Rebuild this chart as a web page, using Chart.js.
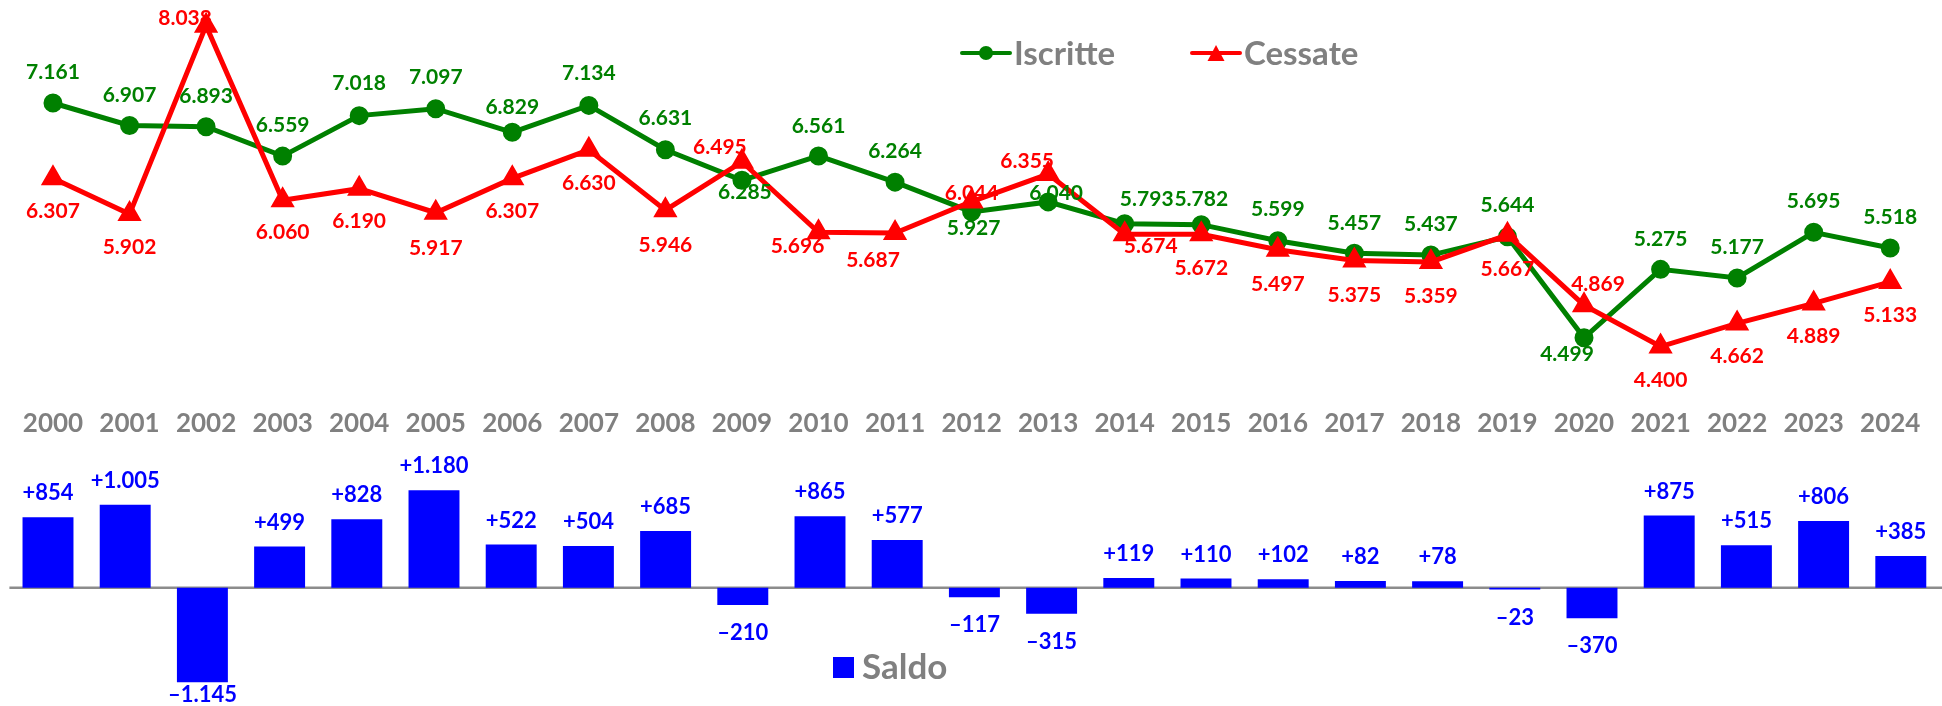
<!DOCTYPE html>
<html><head><meta charset="utf-8">
<script src="https://cdn.jsdelivr.net/npm/chart.js@4.4.1/dist/chart.umd.min.js"></script>
<style>
html,body{margin:0;padding:0;background:#fff;width:1942px;height:706px;overflow:hidden;}
#top{position:absolute;left:0;top:0;width:1942px;height:450px;}
#bot{position:absolute;left:0;top:450px;width:1942px;height:256px;}
</style></head><body>
<div id="top"><canvas id="c1"></canvas></div>
<div id="bot"><canvas id="c2"></canvas></div>
<script>
// ---- data ----
const years = ['2000','2001','2002','2003','2004','2005','2006','2007','2008','2009','2010','2011','2012','2013','2014','2015','2016','2017','2018','2019','2020','2021','2022','2023','2024'];
const iscritte = [7161,6907,6893,6559,7018,7097,6829,7134,6631,6285,6561,6264,5927,6040,5793,5782,5599,5457,5437,5644,4499,5275,5177,5695,5518];
const cessate = [6307,5902,8038,6060,6190,5917,6307,6630,5946,6495,5696,5687,6044,6355,5674,5672,5497,5375,5359,5667,4869,4400,4662,4889,5133];
const saldo = [854,1005,-1145,499,828,1180,522,504,685,-210,865,577,-117,-315,119,110,102,82,78,-23,-370,875,515,806,385];

// ---- label placement (offsets from the mark, in px) ----
const iscritteLabelDy = [-31,-30,-30,-31,-32,-31,-25,-32,-32,12,-30,-31,16,-9,-24,-25,-32,-30,-31,-32,16,-30,-31,-31,-31];
const iscritteLabelDx = [0,0,0,0,0,0,0,0,0,3,0,0,2,8,22,0,0,0,0,0,-17,0,0,0,0];
const cessateLabelDy = [33,33,-7,32,33,35,33,33,35,-15,14,27,-8,-13,12,34,34,35,34,34,-21,34,33,33,33];
const cessateLabelDx = [0,0,-21,0,0,0,0,0,0,-22,-21,-22,0,-21,26,0,0,0,0,0,14,0,0,0,0];

const FONT = 'Lato, "Open Sans", sans-serif';
const GRAY = '#808080';
const GREEN = '#008000', RED = '#FF0000', BLUE = '#0000FF';

function fmtIt(v){
  return Math.abs(v).toString().replace(/\B(?=(\d{3})+(?!\d))/g,'.');
}
function fmtSigned(v){
  return (v >= 0 ? '+' : '\u2013') + fmtIt(v);
}

const lineLabels = {
  id: 'lineLabels',
  afterDatasetsDraw(chart){
    const ctx = chart.ctx;
    ctx.save();
    ctx.font = 'bold 21px ' + FONT;
    ctx.textAlign = 'center';
    ctx.textBaseline = 'middle';
    chart.data.datasets.forEach((ds, i) => {
      const meta = chart.getDatasetMeta(i);
      ctx.fillStyle = ds.borderColor;
      meta.data.forEach((pt, j) => {
        ctx.fillText(fmtIt(ds.data[j]), pt.x + ds.labelDx[j], pt.y + ds.labelDy[j]);
      });
    });
    // legend
    const items = [
      {ds: chart.data.datasets.find(d => d.label === 'Iscritte'), x: 962},
      {ds: chart.data.datasets.find(d => d.label === 'Cessate'), x: 1192}
    ];
    const ly = 53;
    items.forEach(it => {
      const ds = it.ds;
      ctx.strokeStyle = ds.borderColor;
      ctx.fillStyle = ds.borderColor;
      ctx.lineWidth = 4;
      ctx.lineCap = 'round';
      ctx.beginPath(); ctx.moveTo(it.x, ly); ctx.lineTo(it.x + 48, ly); ctx.stroke();
      const cx = it.x + 24;
      if (ds.pointStyle === 'circle') {
        ctx.beginPath(); ctx.arc(cx, ly, 7, 0, Math.PI*2); ctx.fill();
      } else {
        ctx.beginPath(); ctx.moveTo(cx, ly - 8); ctx.lineTo(cx + 8.5, ly + 8); ctx.lineTo(cx - 8.5, ly + 8); ctx.closePath(); ctx.fill();
      }
      ctx.fillStyle = GRAY;
      ctx.font = 'bold 33px ' + FONT;
      ctx.textAlign = 'left';
      ctx.fillText(ds.label, it.x + 52, ly + 1);
    });
    ctx.restore();
  }
};

const barLabels = {
  id: 'barLabels',
  beforeDatasetsDraw(chart){
    const ctx = chart.ctx;
    const y0 = chart.scales.y.getPixelForValue(0);
    ctx.save();
    ctx.strokeStyle = '#8c8c8c';
    ctx.lineWidth = 2.5;
    ctx.beginPath(); ctx.moveTo(chart.chartArea.left, y0); ctx.lineTo(chart.width, y0); ctx.stroke();
    ctx.restore();
  },
  afterDatasetsDraw(chart){
    const ctx = chart.ctx;
    ctx.save();
    ctx.font = 'bold 22px ' + FONT;
    ctx.textAlign = 'center';
    ctx.textBaseline = 'middle';
    ctx.fillStyle = BLUE;
    const ds = chart.data.datasets[0];
    const meta = chart.getDatasetMeta(0);
    meta.data.forEach((bar, j) => {
      const v = ds.data[j];
      let y = v >= 0 ? bar.y - 24 : bar.y + 28;
      y = Math.min(y, chart.height - 11);
      ctx.fillText(fmtSigned(v), bar.x, y);
    });
    // legend
    ctx.fillStyle = BLUE;
    ctx.fillRect(833, 207, 21, 21);
    ctx.fillStyle = GRAY;
    ctx.font = 'bold 35px ' + FONT;
    ctx.textAlign = 'left';
    ctx.fillText(ds.label, 862, 218);
    ctx.restore();
  }
};

new Chart(document.getElementById('c1'), {
  type: 'line',
  data: {
    labels: years,
    datasets: [
      {label: 'Iscritte', data: iscritte, borderColor: GREEN, backgroundColor: GREEN,
       borderWidth: 5, pointStyle: 'circle', pointRadius: 7, pointHoverRadius: 7,
       tension: 0, order: 2, labelDy: iscritteLabelDy, labelDx: iscritteLabelDx},
      {label: 'Cessate', data: cessate, borderColor: RED, backgroundColor: RED,
       borderWidth: 5, pointStyle: 'triangle', pointRadius: 9, pointHoverRadius: 9,
       tension: 0, order: 1, labelDy: cessateLabelDy, labelDx: cessateLabelDx}
    ]
  },
  options: {
    responsive: true, maintainAspectRatio: false, animation: false,
    layout: {padding: {left: 14.7, right: 13.5, top: 0, bottom: 0}, autoPadding: false},
    plugins: {legend: {display: false}, tooltip: {enabled: false}},
    scales: {
      x: {
        offset: true,
        grid: {display: false, drawTicks: false},
        border: {display: false},
        ticks: {color: GRAY, font: {family: FONT, size: 26, weight: 'bold'}, padding: 8, maxRotation: 0, autoSkip: false},
        afterFit(scale){ scale.height = 50; }
      },
      y: {display: false, min: 3794, max: 8329}
    }
  },
  plugins: [lineLabels]
});

new Chart(document.getElementById('c2'), {
  type: 'bar',
  data: {
    labels: years,
    datasets: [
      {label: 'Saldo', data: saldo, backgroundColor: BLUE, borderWidth: 0,
       categoryPercentage: 1.0, barPercentage: 0.66}
    ]
  },
  options: {
    responsive: true, maintainAspectRatio: false, animation: false,
    layout: {padding: {left: 9.4, right: 2.6, top: 0, bottom: 0}, autoPadding: false},
    plugins: {legend: {display: false}, tooltip: {enabled: false}},
    scales: {
      x: {display: false},
      y: {display: false, min: -1432, max: 1667}
    }
  },
  plugins: [barLabels]
});
</script>
</body></html>
